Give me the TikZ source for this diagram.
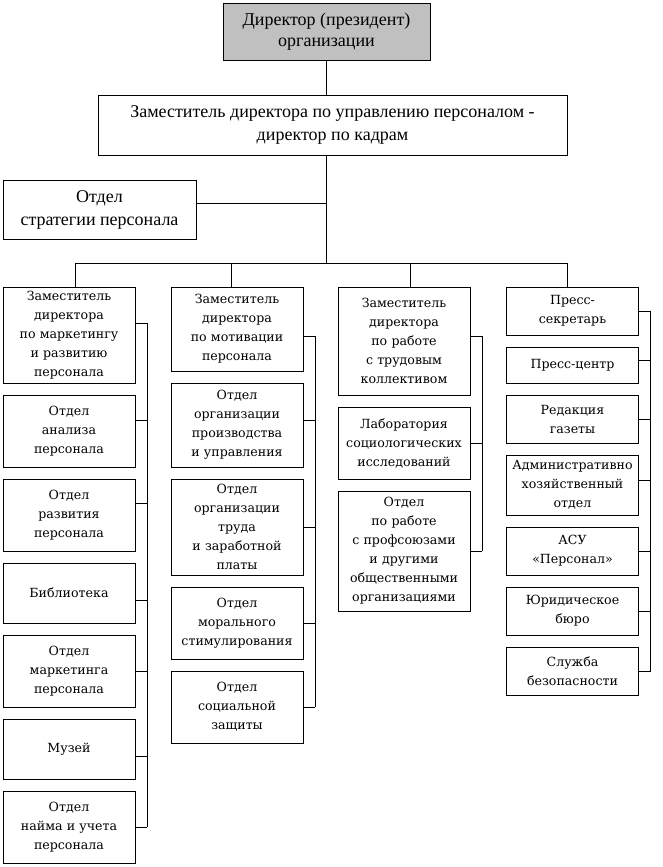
\documentclass[tikz,border=0pt]{standalone}
\usepackage{fontspec}
\setmainfont{Liberation Serif}
\newfontfamily\unitfont{DejaVu Serif}
\usetikzlibrary{positioning}
\definecolor{headgray}{HTML}{C0C0C0}

\tikzset{
  topbox/.style={draw, fill=headgray, align=center, inner sep=0pt, outer sep=0pt, font=\fontsize{18}{21}\selectfont},
  headbox/.style={draw, align=center, inner sep=0pt, outer sep=0pt, font=\fontsize{18}{23}\selectfont},
  unit/.style={draw, text width=132pt, align=center, inner sep=0pt, outer sep=0pt, anchor=north, font=\unitfont\fontsize{12.6}{19}\selectfont},
}

\begin{document}
\begin{tikzpicture}[x=1pt, y=-1pt, node distance=12pt, line width=0.75pt]
    \useasboundingbox (0,0) rectangle (663,867);
    % head of the service
    \node[topbox, minimum width=207pt, minimum height=57pt] (dir) at (326.5,31.5) {Директор (президент)\\организации};
    \node[headbox, minimum width=469pt, minimum height=60pt] (hr) at (332.5,125) {Заместитель директора по управлению персоналом -\\директор по кадрам};
    \node[headbox, minimum width=193pt, minimum height=59pt] (strat) at (99.5,209.5) {Отдел\\стратегии персонала};

    % marketing
    \node[unit, minimum height=96pt] (mk) at (69,287) {Заместитель\\директора\\по маркетингу\\и развитию\\персонала};
    \node[unit, minimum height=72pt, below=of mk] (an) {Отдел\\анализа\\персонала};
    \node[unit, minimum height=72pt, below=of an] (dev) {Отдел\\развития\\персонала};
    \node[unit, minimum height=60pt, below=of dev] (lib) {Библиотека};
    \node[unit, minimum height=72pt, below=of lib] (mkt) {Отдел\\маркетинга\\персонала};
    \node[unit, minimum height=60pt, below=of mkt] (mus) {Музей};
    \node[unit, minimum height=72pt, below=of mus] (hire) {Отдел\\найма и учета\\персонала};

    % motivation
    \node[unit, minimum height=84pt] (mt) at (237,287) {Заместитель\\директора\\по мотивации\\персонала};
    \node[unit, minimum height=84pt, below=of mt] (prd) {Отдел\\организации\\производства\\и управления};
    \node[unit, minimum height=96pt, below=of prd] (trd) {Отдел\\организации\\труда\\и заработной\\платы};
    \node[unit, minimum height=72pt, below=of trd] (mor) {Отдел\\морального\\стимулирования};
    \node[unit, minimum height=72pt, below=of mor] (soc) {Отдел\\социальной\\защиты};

    % labour collective
    \node[unit, minimum height=108pt] (tk) at (404,287) {Заместитель\\директора\\по работе\\с трудовым\\коллективом};
    \node[unit, minimum height=72pt, below=of tk] (lab) {Лаборатория\\социологических\\исследований};
    \node[unit, minimum height=120pt, below=of lab] (prf) {Отдел\\по работе\\с профсоюзами\\и другими\\общественными\\организациями};

    % press
    \node[unit, minimum height=48pt] (ps) at (572.5,287) {Пресс-\\секретарь};
    \node[unit, minimum height=36pt, below=of ps] (pc) {Пресс-центр};
    \node[unit, minimum height=48pt, below=of pc] (gaz) {Редакция\\газеты};
    \node[unit, minimum height=60pt, below=of gaz] (adm) {Административно\\хозяйственный\\отдел};
    \node[unit, minimum height=48pt, below=of adm] (asu) {АСУ\\«Персонал»};
    \node[unit, minimum height=48pt, below=of asu] (jur) {Юридическое\\бюро};
    \node[unit, minimum height=48pt, below=of jur] (sec) {Служба\\безопасности};

    % bus
    \coordinate (bl) at (75,263);
    \coordinate (b2) at (231,263);
    \coordinate (b3) at (410,263);
    \coordinate (br) at (567,263);
    \draw (dir) -- (dir |- hr.north);
    \draw (hr.south -| dir) -- (dir |- bl);
    \draw ([yshift=6pt]strat.east) -- ([yshift=6pt]strat.east -| dir);
    \draw (bl) -- (br);
    \draw (bl) -- (bl |- mk.north);
    \draw (b2) -- (b2 |- mt.north);
    \draw (b3) -- (b3 |- tk.north);
    \draw (br) -- (br |- ps.north);

    % side lines
    \foreach \n/\s in {mk/12, an/11, dev/12, lib/-7, mkt/0, mus/-7, hire/0, mt/-7, prd/5, trd/0, mor/0, soc/0, tk/5, lab/0, prf/0, ps/0, pc/5, gaz/0, adm/5, asu/0, jur/0, sec/0}
        \draw ([yshift=\s pt]\n.east) -- ++(12,0);
    \draw ([xshift=12pt,yshift=12pt]mk.east) -- ([xshift=12pt]hire.east);
    \draw ([xshift=12pt,yshift=-7pt]mt.east) -- ([xshift=12pt]soc.east);
    \draw ([xshift=12pt,yshift=5pt]tk.east) -- ([xshift=12pt]prf.east);
    \draw ([xshift=12pt]ps.east) -- ([xshift=12pt]sec.east);
\end{tikzpicture}
\end{document}
